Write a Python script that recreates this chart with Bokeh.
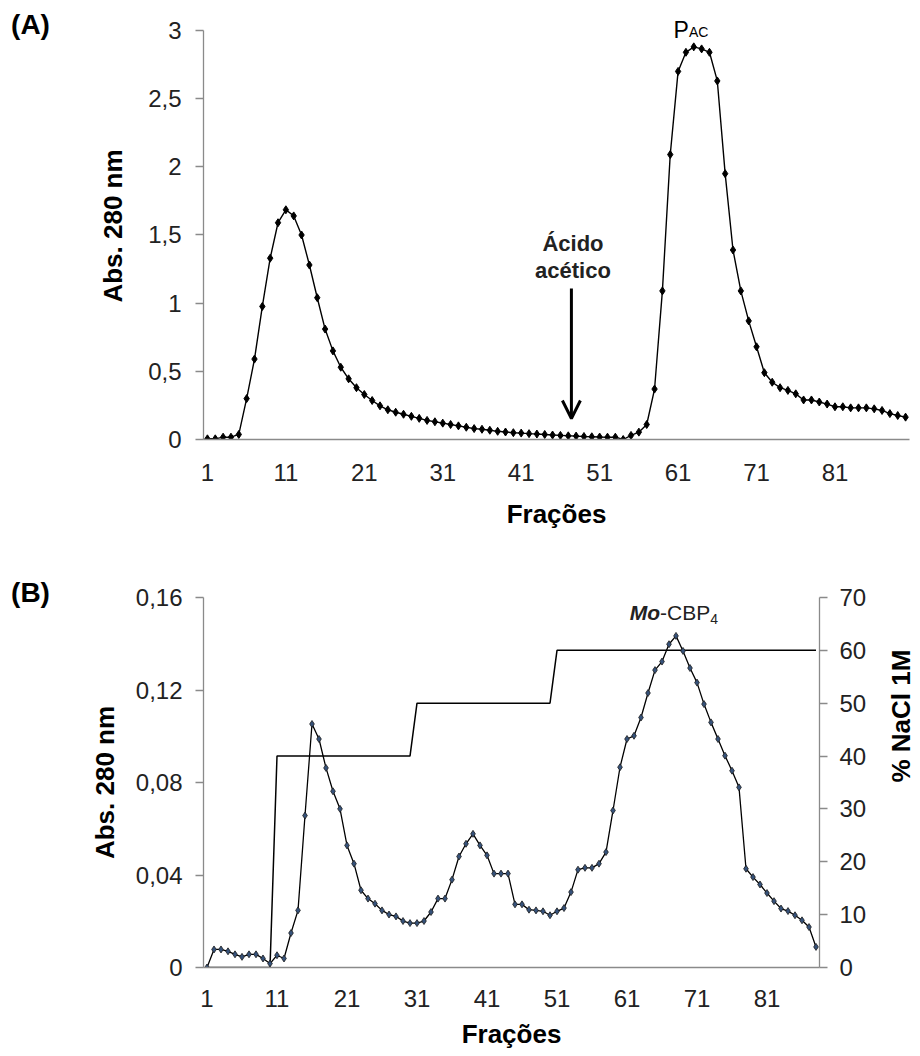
import math
from bokeh.plotting import figure
from bokeh.layouts import column, row
from bokeh.models import (Range1d, LinearAxis, FixedTicker, CustomJSTickFormatter,
                          Label, Arrow, OpenHead)
from bokeh.core.properties import value
from bokeh.embed import file_html
from bokeh.resources import INLINE

FONT = "Liberation Sans"

# ---------------- data: panel A ----------------
fractions_a = list(range(1, 91))
abs_a = [0.005, 0.005, 0.017, 0.017, 0.037, 0.30, 0.59, 0.976, 1.33, 1.59,
         1.685, 1.64, 1.50, 1.28, 1.04, 0.81, 0.65, 0.53, 0.445, 0.38,
         0.33, 0.286, 0.247, 0.218, 0.20, 0.185, 0.17, 0.155, 0.14, 0.13,
         0.12, 0.11, 0.10, 0.09, 0.08, 0.075, 0.068, 0.06, 0.055, 0.05,
         0.047, 0.043, 0.04, 0.037, 0.033, 0.03, 0.027, 0.025, 0.022, 0.02,
         0.018, 0.017, 0.017, 0.0, 0.03, 0.054, 0.11, 0.37, 1.09, 2.09,
         2.70, 2.84, 2.88, 2.865, 2.84, 2.63, 1.95, 1.39, 1.09, 0.87,
         0.68, 0.49, 0.42, 0.38, 0.36, 0.335, 0.29, 0.29, 0.275, 0.26,
         0.24, 0.24, 0.232, 0.232, 0.232, 0.225, 0.213, 0.19, 0.176, 0.164]
yticks_a = [0, 0.5, 1, 1.5, 2, 2.5, 3]

# ---------------- data: panel B ----------------
fractions_b = list(range(1, 89))
abs_b = [0.0, 0.0078, 0.0078, 0.007, 0.0057, 0.0046, 0.0057, 0.0057, 0.0039, 0.0017,
         0.0053, 0.0039, 0.0149, 0.0247, 0.0657, 0.1053, 0.0988, 0.0863, 0.0762, 0.0686,
         0.0528, 0.0449, 0.0334, 0.0298, 0.0276, 0.0247, 0.0229, 0.0221, 0.0201, 0.0192,
         0.0192, 0.0201, 0.024, 0.0298, 0.0298, 0.038, 0.048, 0.0535, 0.0578, 0.0528,
         0.0485, 0.0406, 0.0406, 0.0406, 0.0273, 0.0273, 0.025, 0.0247, 0.0243, 0.0226,
         0.0243, 0.0257, 0.0326, 0.0423, 0.0431, 0.0431, 0.0449, 0.0499, 0.0679, 0.0866,
         0.0988, 0.1002, 0.1081, 0.1187, 0.1286, 0.1323, 0.1398, 0.1434, 0.1369, 0.1295,
         0.1232, 0.1139, 0.106, 0.0988, 0.0916, 0.0851, 0.0779, 0.0427, 0.0391, 0.0359,
         0.0322, 0.0287, 0.0255, 0.0244, 0.0226, 0.0204, 0.0175, 0.0089]
nacl_frac = [1, 10, 11, 30, 31, 50, 51, 88]
nacl_pct = [0, 0, 40, 40, 50, 50, 60, 60]
yticks_b = [0, 0.04, 0.08, 0.12, 0.16]
yticks_nacl = [0, 10, 20, 30, 40, 50, 60, 70]

x_ticks = [1, 11, 21, 31, 41, 51, 61, 71, 81]
panel_tags = ["(A)", "(B)"]

comma = CustomJSTickFormatter(code="return tick.toString().replace('.', ',');")

AXIS_GREY = "#8a8a8a"
TXT = "#222222"


def style_axis(ax, tick_size="24px"):
    ax.axis_line_color = AXIS_GREY
    ax.axis_line_width = 1.3
    ax.major_tick_line_color = AXIS_GREY
    ax.major_tick_line_width = 1.3
    ax.major_tick_out = 8
    ax.major_tick_in = 0
    ax.minor_tick_line_color = None
    ax.major_label_text_font = FONT
    ax.major_label_text_font_size = tick_size
    ax.major_label_text_color = TXT
    ax.axis_label_text_font = FONT
    ax.axis_label_text_font_style = "bold"
    ax.axis_label_text_font_size = "26px"
    ax.axis_label_text_color = "black"


# ================= panel tags column =================
TAG_W, TAG_H = 51, 1040
tags = figure(width=TAG_W, height=TAG_H, x_range=Range1d(0, TAG_W), y_range=Range1d(TAG_H, 0),
              x_axis_location=None, y_axis_location=None, min_border=0,
              output_backend="svg", toolbar_location=None)
tags.outline_line_color = None
tags.xgrid.visible = False
tags.ygrid.visible = False
tags.text(x=[30, 30], y=[24, 592], text=panel_tags, text_font=value(FONT),
          text_font_style="bold", text_font_size="28px", text_align="center",
          text_baseline="middle", text_color="black")

LEFT = 152

# ================= Panel A =================
pa = figure(frame_width=706, frame_height=427, x_range=Range1d(0.5, 90.5), y_range=Range1d(0, 3.132),
            output_backend="svg", toolbar_location=None,
            min_border_left=LEFT, min_border_right=5, min_border_top=12, min_border_bottom=93)
pa.outline_line_color = None
pa.xgrid.visible = False
pa.ygrid.visible = False

pa.line(fractions_a, abs_a, line_color="black", line_width=1.4)
pa.scatter(fractions_a, abs_a, marker="diamond", size=8, fill_color="black", line_color="black")

for ax in pa.xaxis:
    style_axis(ax)
    ax.ticker = FixedTicker(ticks=x_ticks)
    ax.major_tick_line_color = None
    ax.major_label_standoff = 16
    ax.axis_label = "Frações"
    ax.axis_label_standoff = 15
for ax in pa.yaxis:
    style_axis(ax)
    ax.bounds = (0, 3)
    ax.ticker = FixedTicker(ticks=yticks_a)
    ax.formatter = comma
    ax.major_label_standoff = 14
    ax.axis_label = "Abs. 280 nm"
    ax.axis_label_standoff = 17

pa.add_layout(Label(x=60.4, y=3.0, text="P", text_font=FONT, text_font_size="23px",
                    text_align="left", text_baseline="alphabetic", text_color="black"))
pa.add_layout(Label(x=60.4, y=3.0, x_offset=15.5, y_offset=-2, text="AC", text_font=FONT,
                    text_font_size="14px", text_align="left", text_baseline="alphabetic",
                    text_color="black"))
pa.add_layout(Label(x=47.6, y=1.438, text="Ácido", text_font=FONT, text_font_style="bold",
                    text_font_size="22px", text_align="center", text_baseline="alphabetic",
                    text_color="#222222"))
pa.add_layout(Label(x=47.6, y=1.240, text="acético", text_font=FONT, text_font_style="bold",
                    text_font_size="22px", text_align="center", text_baseline="alphabetic",
                    text_color="#222222"))
pa.add_layout(Arrow(end=OpenHead(size=18, line_width=3, line_color="black"),
                    x_start=47.4, y_start=1.108, x_end=47.4, y_end=0.154,
                    line_width=3, line_color="black"))

# ================= Panel B =================
pb = figure(frame_width=616, frame_height=370, x_range=Range1d(0.5, 88.5), y_range=Range1d(0, 0.16),
            output_backend="svg", toolbar_location=None,
            min_border_left=LEFT, min_border_right=5, min_border_top=65, min_border_bottom=5)
pb.outline_line_color = None
pb.xgrid.visible = False
pb.ygrid.visible = False
pb.extra_y_ranges = {"nacl": Range1d(0, 70)}

pb.line(nacl_frac, nacl_pct, y_range_name="nacl", line_color="black", line_width=1.5)
pb.line(fractions_b, abs_b, line_color="black", line_width=1.3)
pb.scatter(fractions_b, abs_b, marker="diamond", size=7, fill_color="#36527a",
           line_color="#1a1a1a", line_width=0.8)

for ax in pb.xaxis:
    style_axis(ax)
    ax.ticker = FixedTicker(ticks=x_ticks)
    ax.major_tick_line_color = None
    ax.major_label_standoff = 14
    ax.axis_label = "Frações"
    ax.axis_label_standoff = 9
for ax in pb.yaxis:
    style_axis(ax)
    ax.ticker = FixedTicker(ticks=yticks_b)
    ax.formatter = comma
    ax.major_label_standoff = 13
    ax.axis_label = "Abs. 280 nm"
    ax.axis_label_standoff = 13

right = LinearAxis(y_range_name="nacl", ticker=FixedTicker(ticks=yticks_nacl))
style_axis(right)
right.major_label_standoff = 12
right.axis_label = "% NaCl 1M"
right.axis_label_standoff = 32
right.axis_label_orientation = math.pi / 2
pb.add_layout(right, "right")

pb.add_layout(Label(x=61.4, y=0.1533, text="Mo", text_font=FONT, text_font_style="bold italic",
                    text_font_size="21px", text_align="left", text_baseline="middle",
                    text_color="#222222"))
pb.add_layout(Label(x=61.4, y=0.1533, x_offset=30.3, text="-CBP", text_font=FONT,
                    text_font_size="21px", text_align="left", text_baseline="middle",
                    text_color="#222222"))
pb.add_layout(Label(x=61.4, y=0.1533, x_offset=80.5, y_offset=-6, text="4", text_font=FONT,
                    text_font_size="14px", text_align="left", text_baseline="middle",
                    text_color="#222222"))

layout = row(tags, column(pa, pb, spacing=0), spacing=0)
open("out.html", "w").write(file_html(layout, INLINE))
